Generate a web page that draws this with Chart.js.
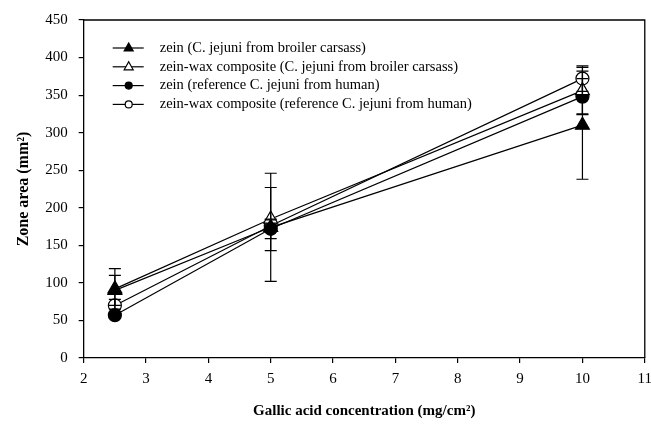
<!DOCTYPE html>
<html>
<head>
<meta charset="utf-8">
<script src="https://cdn.jsdelivr.net/npm/chart.js@4"></script>
<style>
  html, body { margin: 0; padding: 0; background: #fff; overflow: hidden; }
  #wrap { width: 659px; height: 424px; }
</style>
</head>
<body>
<div id="wrap"><canvas id="zoneChart"></canvas></div>
<script>
// gallic acid concentration (mg/cm2)
var conc = [2.5, 5, 10];

// zone area (mm2) and error bars
var zeinBroiler = [90, 174, 310];
var zeinBroilerErr = [20, 72, 72];
var waxBroiler = [92, 185, 356];
var waxBroilerErr = [27, 42, 31];
var zeinHuman = [57, 172, 348];
var zeinHumanErr = [4, 13, 24];
var waxHuman = [70, 176, 372];
var waxHumanErr = [8, 8, 17];

var labels = [
    "zein (C. jejuni from broiler carsass)",
    "zein-wax composite (C. jejuni from broiler carsass)",
    "zein (reference C. jejuni from human)",
    "zein-wax composite (reference C. jejuni from human)"
];

var serif = "'Liberation Serif', 'Times New Roman', serif";

function pts(ys) {
    return conc.map(function (x, i) { return { x: x, y: ys[i] }; });
}

function makeSet(label, ys, errs, style, filled, radius) {
    return {
        label: label,
        data: pts(ys),
        errs: errs,
        showLine: true,
        borderColor: '#000',
        borderWidth: 1.2,
        pointStyle: style,
        pointRadius: radius,
        pointBorderColor: '#000',
        pointBorderWidth: 1.2,
        pointBackgroundColor: filled ? '#000' : '#fff',
        tension: 0
    };
}

// error bars, drawn with the chart's own scales
var errorBars = {
    id: 'errorBars',
    afterDatasetsDraw: function (chart) {
        var ctx = chart.ctx;
        var xs = chart.scales.x, ys = chart.scales.y;
        ctx.save();
        ctx.strokeStyle = '#000';
        ctx.lineWidth = 1.2;
        chart.data.datasets.forEach(function (ds) {
            ds.data.forEach(function (p, i) {
                var e = ds.errs[i];
                var px = xs.getPixelForValue(p.x);
                var top = ys.getPixelForValue(p.y + e);
                var bot = ys.getPixelForValue(p.y - e);
                ctx.beginPath();
                ctx.moveTo(px, top); ctx.lineTo(px, bot);
                ctx.moveTo(px - 6, top); ctx.lineTo(px + 6, top);
                ctx.moveTo(px - 6, bot); ctx.lineTo(px + 6, bot);
                ctx.stroke();
            });
        });
        ctx.restore();
    }
};

// top and right edge of the plot box
var frame = {
    id: 'frame',
    afterDraw: function (chart) {
        var a = chart.chartArea, ctx = chart.ctx;
        ctx.save();
        ctx.strokeStyle = '#000';
        ctx.lineWidth = 1.3;
        ctx.beginPath();
        ctx.moveTo(a.left, a.top);
        ctx.lineTo(a.right, a.top);
        ctx.lineTo(a.right, a.bottom);
        ctx.stroke();
        ctx.restore();
    }
};

// legend inside the plot, line + marker like the original
var boxLegend = {
    id: 'boxLegend',
    afterDraw: function (chart) {
        var ctx = chart.ctx, a = chart.chartArea;
        var x0 = a.left + 29, y0 = a.top + 28, gap = 18.8;
        ctx.save();
        ctx.font = "14.5px " + serif;
        ctx.textBaseline = 'middle';
        chart.data.datasets.forEach(function (ds, i) {
            var y = y0 + i * gap;
            ctx.strokeStyle = '#000';
            ctx.lineWidth = 1.2;
            ctx.beginPath();
            ctx.moveTo(x0, y); ctx.lineTo(x0 + 31, y);
            ctx.stroke();
            ctx.fillStyle = ds.pointBackgroundColor;
            ctx.beginPath();
            if (ds.pointStyle === 'triangle') {
                ctx.moveTo(x0 + 16, y - 5);
                ctx.lineTo(x0 + 20.5, y + 3);
                ctx.lineTo(x0 + 11.5, y + 3);
                ctx.closePath();
            } else {
                ctx.arc(x0 + 16, y, 3.5, 0, Math.PI * 2);
            }
            ctx.fill();
            ctx.stroke();
            ctx.fillStyle = '#000';
            ctx.fillText(ds.label, x0 + 47, y);
        });
        ctx.restore();
    }
};

var ctx = document.getElementById('zoneChart');
new Chart(ctx, {
    type: 'scatter',
    data: {
        datasets: [
            makeSet(labels[0], zeinBroiler, zeinBroilerErr, 'triangle', true, 8),
            makeSet(labels[1], waxBroiler, waxBroilerErr, 'triangle', false, 8),
            makeSet(labels[2], zeinHuman, zeinHumanErr, 'circle', true, 6.5),
            makeSet(labels[3], waxHuman, waxHumanErr, 'circle', false, 6.5)
        ]
    },
    options: {
        responsive: true,
        maintainAspectRatio: false,
        animation: { duration: 0 },
        layout: { padding: { top: 8, right: 0, left: 14, bottom: 4 } },
        plugins: {
            legend: { display: false },
            tooltip: { enabled: false }
        },
        scales: {
            x: {
                type: 'linear',
                min: 2,
                max: 11,
                ticks: { stepSize: 1, color: '#000', font: { family: serif, size: 15 }, padding: 7 },
                grid: { drawOnChartArea: false, color: '#000', tickLength: 5, lineWidth: 1.2 },
                border: { color: '#000', width: 1.3 },
                title: {
                    display: true,
                    text: 'Gallic acid concentration (mg/cm²)',
                    color: '#000',
                    font: { family: serif, size: 15, weight: 'bold' },
                    padding: { top: 7, bottom: 0 }
                }
            },
            y: {
                min: 0,
                max: 450,
                ticks: { stepSize: 50, color: '#000', font: { family: serif, size: 15 }, padding: 11 },
                grid: { drawOnChartArea: false, color: '#000', tickLength: 5, lineWidth: 1.2 },
                border: { color: '#000', width: 1.3 },
                title: {
                    display: true,
                    text: 'Zone area (mm²)',
                    color: '#000',
                    font: { family: serif, size: 16, weight: 'bold' },
                    padding: { top: 0, bottom: 1 }
                }
            }
        }
    },
    plugins: [errorBars, frame, boxLegend]
});
</script>
</body>
</html>
